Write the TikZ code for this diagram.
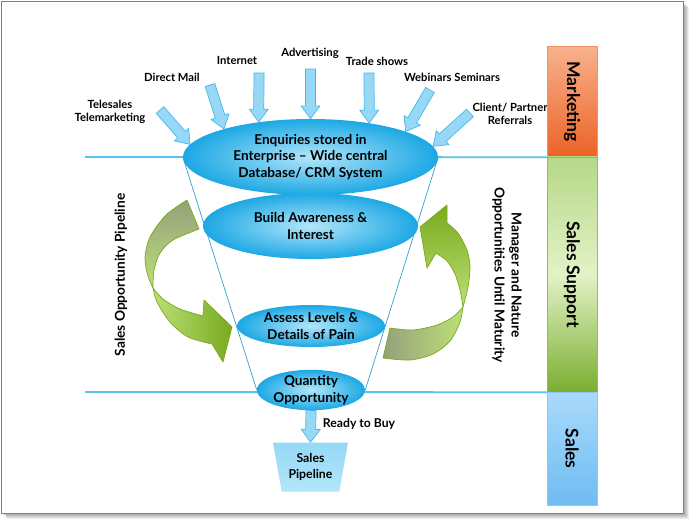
\documentclass[tikz,border=0pt]{standalone}
\usepackage{fontspec}
\setmainfont{Lato}
\usepackage{graphicx}
\usetikzlibrary{shapes.geometric, positioning, calc, backgrounds}

\definecolor{skyblue}{RGB}{28,168,228}
\definecolor{skylight}{RGB}{178,230,250}
\definecolor{arrowfill}{RGB}{150,216,246}
\definecolor{arrowline}{RGB}{70,186,236}
\definecolor{lineblue}{RGB}{85,197,240}
\definecolor{funnelblue}{RGB}{50,160,210}
\definecolor{leafdark}{RGB}{120,170,30}
\definecolor{leaflight}{RGB}{188,224,118}
\definecolor{olivegray}{RGB}{150,160,125}
\definecolor{mktop}{RGB}{248,178,142}
\definecolor{mkbot}{RGB}{236,98,38}
\definecolor{suptop}{RGB}{182,216,136}
\definecolor{supmid}{RGB}{226,242,198}
\definecolor{supbot}{RGB}{122,174,48}
\definecolor{saltop}{RGB}{170,218,251}
\definecolor{salbot}{RGB}{110,188,242}

% block arrow from #1 to #2
\newcommand{\inarrow}[2]{%
  \path ($(#2)!11pt!(#1)$) coordinate (hb);
  \draw[inarrow] ($(#1)!4.3pt!90:(#2)$) -- ($(hb)!4.3pt!90:(#2)$) -- ($(hb)!8.1pt!90:(#2)$)
    -- (#2) -- ($(hb)!8.1pt!-90:(#2)$) -- ($(hb)!4.3pt!-90:(#2)$) -- ($(#1)!4.3pt!-90:(#2)$) -- cycle;
}

\begin{document}
\begin{tikzpicture}[x=0.03cm, y=-0.03cm,
  stage/.style={ellipse, inner sep=0pt, align=center, font=\bfseries\fontsize{11.6}{13.8}\selectfont,
    inner color=skylight, outer color=skyblue},
  lbl/.style={font=\bfseries\fontsize{9.6}{11.5}\selectfont, align=center},
  side/.style={font=\bfseries\fontsize{11.7}{14.5}\selectfont, align=center},
  inarrow/.style={draw=arrowline, fill=arrowfill, line width=0.6pt, line join=round},
  hline/.style={draw=lineblue, line width=1.6pt},
  funnel/.style={draw=funnelblue, line width=0.6pt},
  bar/.style={rectangle, inner sep=0pt, minimum width=1.5cm, font=\bfseries\fontsize{15}{17}\selectfont},
  leafedge/.style={draw=leafdark, line width=0.6pt, line join=round}]
\useasboundingbox (0,0) rectangle (697,526);

% Funnel stages
\node[stage, minimum width=6.45cm, minimum height=1.98cm] (aware) at (310.5,226) {Build Awareness \&\\Interest};
\node[stage, minimum width=7.65cm, minimum height=2.28cm] (enq) at (310.5,157) {Enquiries stored in\\Enterprise -- Wide central\\Database/ CRM System};
\node[stage, minimum width=4.44cm, minimum height=1.26cm] (assess) at (311,326) {Assess Levels \&\\Details of Pain};
\node[stage, minimum width=3.24cm, minimum height=1.2cm] (qty) at (311,390) {Quantity\\Opportunity};
\node[trapezium, shape border rotate=180, trapezium left angle=76, trapezium right angle=76,
  trapezium stretches=true, minimum width=2.25cm, minimum height=1.47cm, inner sep=0pt,
  top color=arrowfill, bottom color=skylight, lbl, font=\bfseries\fontsize{10.5}{13}\selectfont] (pipe) at (310.5,467) {Sales\\Pipeline};

% Lead sources
\node[lbl] (tele) at (110,112) {Telesales\\Telemarketing};
\node[lbl] (dmail) at (172,77) {Direct Mail};
\node[lbl] (inet) at (237,60) {Internet};
\node[lbl] (adv) at (310,53) {Advertising};
\node[lbl] (trade) at (377,61) {Trade shows};
\node[lbl] (web) at (452,77) {Webinars Seminars};
\node[lbl] (client) at (510,114) {Client/ Partner\\Referrals};
\coordinate (t-tele) at (160,110);
\coordinate (t-dmail) at (210,85);
\coordinate (t-inet) at (259,73);
\coordinate (t-adv) at (310.5,69);
\coordinate (t-trade) at (369,73);
\coordinate (t-web) at (430,90);
\coordinate (t-client) at (470,113);
\foreach \src/\ang in {tele/174, dmail/162, inet/146, adv/90, trade/30, web/15, client/5} {
  \inarrow{t-\src}{enq.\ang}
}

% Ready to buy
\inarrow{qty.south}{pipe.north}
\node[lbl, font=\bfseries\fontsize{10.4}{12}\selectfont] (ready) at (359,424) {Ready to Buy};

% Side bars
\node[bar, minimum height=3.33cm, draw=mkbot!70, top color=mktop, bottom color=mkbot] (mkt) at (572,101.5) {\rotatebox{-90}{Marketing}};
\node[bar, minimum height=7.05cm, draw=supbot!80, top color=suptop, bottom color=supbot, middle color=supmid] (sup) at (572,274.5) {\rotatebox{-90}{Sales Support}};
\node[bar, minimum height=3.39cm, draw=salbot!80, top color=saltop, bottom color=salbot] (sal) at (572,448.5) {\rotatebox{-90}{Sales}};

% Side captions
\node[side, rotate=90] (pipecap) at (121,275) {Sales Opportunity Pipeline};
\node[side, rotate=-90] (natcap) at (507,275) {Manager and Nature\\Opportunities Until Maturity};

% Pipeline arrow (left)
\draw[leafedge, top color=olivegray, bottom color=leaflight]
  plot[smooth] coordinates {(187,200) (166,215) (150,237) (145,258) (148,276) (153,288)}
  -- plot[smooth] coordinates {(153,288) (154,270) (160,253) (173,240) (199,229)} -- cycle;
\draw[leafedge, left color=leaflight, right color=leafdark]
  plot[smooth] coordinates {(153,288) (163,299) (180,309) (203,316)}
  -- (204,300) -- (232,327) -- (223,362) -- (212,344)
  -- plot[smooth] coordinates {(212,344) (188,337) (170,322) (157,302) (153,288)} -- cycle;

% Nurture arrow (right)
\draw[leafedge, left color=olivegray, right color=leaflight]
  plot[smooth] coordinates {(390,328) (413,330) (437,325) (453,317) (463,307)}
  -- plot[smooth] coordinates {(463,307) (460,322) (450,341) (433,354) (410,360) (383,358)} -- cycle;
\draw[leafedge, bottom color=leaflight, top color=leafdark]
  plot[smooth] coordinates {(463,307) (468,287) (470,267) (467,250) (458,233) (447,223)}
  -- (447,205) -- (420,227) -- (427,268) -- (436,253)
  -- plot[smooth] coordinates {(436,253) (447,261) (455,274) (460,290) (463,307)} -- cycle;

% Frame, stage lines and funnel
\begin{scope}[on background layer]
  \foreach \s in {1,...,6}
    \fill[black, opacity=0.07] (1+\s,1+\s) rectangle (683+\s,513+\s);
  \draw[draw=black!50, fill=white, line width=0.8pt] (1,1) rectangle (683,513);
  \coordinate (l1) at (85,157);
  \coordinate (l2) at (85,392);
  \draw[hline] (l1) -- (mkt.south west);
  \draw[hline] (l2) -- (sup.south west);
  \draw[funnel] (enq.west) -- (qty.west);
  \draw[funnel] (enq.east) -- (qty.east);
\end{scope}
\end{tikzpicture}
\end{document}
